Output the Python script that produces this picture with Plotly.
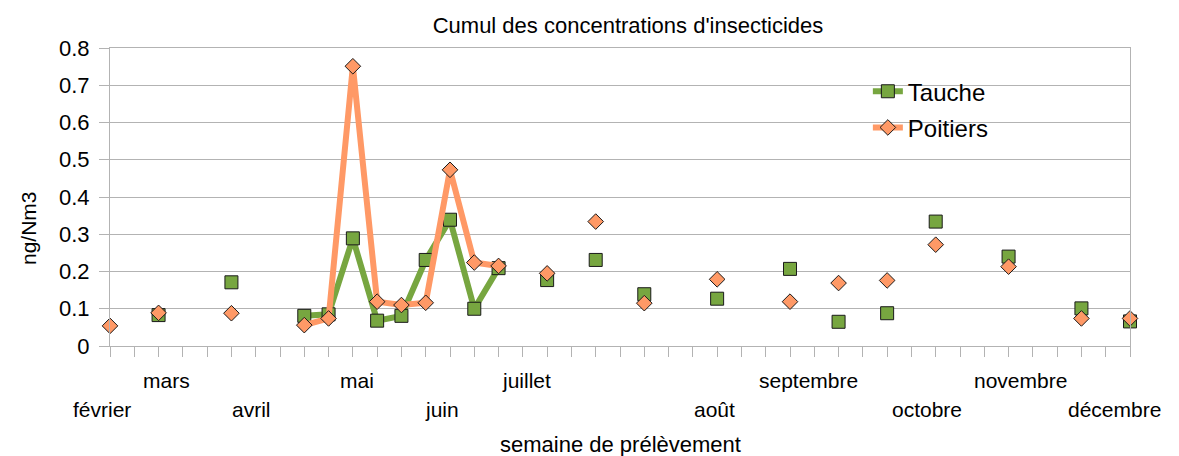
import plotly.graph_objects as go

# Week index (category positions on tick marks)
weeks = list(range(43))

tauche = [None, None, 0.083, None, None, 0.171, None, None, 0.081, 0.085,
          0.289, 0.068, 0.081, 0.231, 0.339, 0.100, 0.209, None, 0.177, None,
          0.231, None, 0.139, None, None, 0.127, None, None, 0.207, None,
          0.065, None, 0.088, None, 0.334, None, None, 0.240, None, None,
          0.101, None, 0.066]

poitiers = [0.054, None, 0.089, None, None, 0.088, None, None, 0.056, 0.074,
            0.751, 0.119, 0.110, 0.116, 0.473, 0.224, 0.215, None, 0.195, None,
            0.334, None, 0.115, None, None, 0.179, None, None, 0.119, None,
            0.169, None, 0.176, None, 0.272, None, None, 0.213, None, None,
            0.074, None, 0.074]

# Month labels (tick labels) and their positions along the week axis
month_labels = ["février", "mars", "avril", "mai", "juin", "juillet",
                "août", "septembre", "octobre", "novembre", "décembre"]
month_pos = [-0.33, 2.31, 5.83, 10.19, 13.66, 17.16, 24.91, 28.78, 33.63, 37.5, 41.38]
month_row = [1, 0, 1, 0, 1, 0, 1, 0, 1, 0, 1]

FONT = "Liberation Sans, Arial, sans-serif"
GREEN = "#77a640"
ORANGE = "#ff9966"
GRID = "#b3b3b3"

W, H = 1171, 448  # page body has an 8px default margin
X_RANGE = [0, 42]

fig = go.Figure()
fig.add_trace(go.Scatter(
    x=weeks, y=tauche, name="Tauche", mode="lines+markers",
    line=dict(color=GREEN, width=6), connectgaps=False,
    marker=dict(symbol="square", size=13, color=GREEN, line=dict(color="#1a1a1a", width=1)),
    cliponaxis=False, legendgroup="a"))
fig.add_trace(go.Scatter(
    x=weeks, y=poitiers, name="Poitiers", mode="lines+markers",
    line=dict(color=ORANGE, width=6), connectgaps=False,
    marker=dict(symbol="diamond", size=12, color=ORANGE, line=dict(color="#1a1a1a", width=1)),
    cliponaxis=False, legendgroup="b"))

annotations = []
for lab, pos, row in zip(month_labels, month_pos, month_row):
    annotations.append(dict(
        x=(pos - X_RANGE[0]) / (X_RANGE[1] - X_RANGE[0]), y=0, xref="paper", yref="paper",
        text=lab, showarrow=False,
        yanchor="middle", xanchor="center", yshift=-34 - 29 * row,
        font=dict(family=FONT, size=21, color="#000000")))
annotations.append(dict(
    x=0.5, y=0, xref="paper", yref="paper", text="semaine de prélèvement",
    showarrow=False, yanchor="middle", xanchor="center", yshift=-98,
    font=dict(family=FONT, size=22, color="#000000")))
annotations.append(dict(
    x=0, y=0, xref="paper", yref="paper", text="ng/Nm3", textangle=-90,
    showarrow=False, yanchor="middle", xanchor="center", xshift=-82, yshift=118,
    font=dict(family=FONT, size=21, color="#000000")))

fig.update_layout(
    width=W, height=H,
    margin=dict(l=102, r=49, t=40, b=110),
    paper_bgcolor="white", plot_bgcolor="white",
    font=dict(family=FONT, size=21, color="#000000"),
    title=dict(text="Cumul des concentrations d'insecticides", x=620 / W, y=1 - 17 / H,
               xref="container", yref="container", xanchor="center", yanchor="middle",
               font=dict(family=FONT, size=22, color="#000000")),
    xaxis=dict(range=X_RANGE, tickmode="array", tickvals=weeks, ticktext=[""] * len(weeks),
               ticks="outside", ticklen=10, tickcolor=GRID, showgrid=False,
               showline=True, linecolor=GRID, linewidth=1, mirror=True, zeroline=False),
    yaxis=dict(range=[0, 0.8], dtick=0.1, tick0=0, ticks="outside", ticklen=10, tickcolor=GRID,
               showgrid=True, gridcolor=GRID, gridwidth=1, showline=True, linecolor=GRID,
               linewidth=1, mirror=True, zeroline=False, ticklabelstandoff=5,
               tickfont=dict(family=FONT, size=22, color="#000000")),
    legend=dict(x=0.743, y=0.929, xanchor="left", yanchor="top", bgcolor="rgba(0,0,0,0)",
                font=dict(family=FONT, size=24, color="#000000"), tracegroupgap=2,
                traceorder="grouped"),
    annotations=annotations,
    showlegend=True,
)

fig.write_html("out.html")
